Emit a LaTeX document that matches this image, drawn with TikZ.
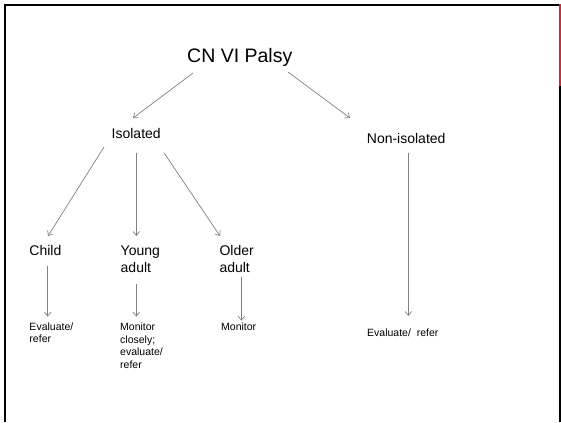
\documentclass[tikz,border=0pt]{standalone}
\usepackage{fontspec}
\setmainfont{Liberation Sans}
\usetikzlibrary{arrows.meta}
\definecolor{linegray}{RGB}{128,128,128}
\definecolor{slidered}{RGB}{224,36,46}
\tikzset{
  lbl/.style={inner sep=0pt, anchor=base west, align=left, text=black},
  big/.style={lbl, font=\fontsize{19.5bp}{23bp}\selectfont},
  mid/.style={lbl, font=\fontsize{14bp}{17bp}\selectfont},
  small/.style={lbl, font=\fontsize{10.5bp}{12.6bp}\selectfont},
  arr/.style={draw=linegray, line width=0.7bp, -{Straight Barb[length=4bp,width=6.5bp]}},
  frame/.style={line width=2.3bp}
}
\begin{document}
\begin{tikzpicture}[x=1bp,y=-1bp]
\useasboundingbox (0,0) rectangle (561,422);
% slide frame
\draw[frame, black] (3.9,5.2) -- (559.7,5.2);
\draw[frame, black] (5.2,4) -- (5.2,422);
\draw[frame, slidered] (559.7,4) -- (559.7,86);
\draw[frame, black] (559.7,86) -- (559.7,422);
% nodes (base west = baseline of the last line)
\node[big]   (root)     at (187,62)      {CN VI Palsy};
\node[mid]   (iso)      at (111.5,138.3) {Isolated};
\node[mid]   (non)      at (366.7,143.3) {Non-isolated};
\node[mid]   (child)    at (29.3,255)    {Child};
\node[mid]   (young)    at (120.5,272)   {Young\\adult};
\node[mid]   (older)    at (219.3,272)   {Older\\adult};
\node[small] (childact) at (29.3,342.6)  {Evaluate/\\refer};
\node[small] (youngact) at (120,368.5)   {Monitor\\closely;\\evaluate/\\refer};
\node[small] (olderact) at (221,330)     {Monitor};
\node[small] (nonact)   at (367,336)     {Evaluate/\ \ refer};
% connectors
\draw[arr] ([shift={(6,11)}]root.base west) -- ([shift={(21.5,-20.3)}]iso.base west);
\draw[arr] ([shift={(101,10)}]root.base west) -- ([shift={(-16.7,-25.3)}]non.base west);
\draw[arr] ([shift={(-7.5,8.7)}]iso.base west) -- ([shift={(18.7,-19)}]child.base west);
\draw[arr] ([shift={(24.8,14.4)}]iso.base west) -- ([shift={(15.8,-36)}]young.base west);
\draw[arr] ([shift={(52.5,14.4)}]iso.base west) -- ([shift={(0.7,-36)}]older.base west);
\draw[arr] ([shift={(41.6,10)}]non.base west) -- ([shift={(41.3,-20)}]nonact.base west);
\draw[arr] ([shift={(18.4,10.7)}]child.base west) -- ([shift={(18.4,-25.9)}]childact.base west);
\draw[arr] ([shift={(15.8,12)}]young.base west) -- ([shift={(16.3,-51.8)}]youngact.base west);
\draw[arr] ([shift={(22,5.3)}]older.base west) -- ([shift={(20.3,-9.3)}]olderact.base west);
\end{tikzpicture}
\end{document}
